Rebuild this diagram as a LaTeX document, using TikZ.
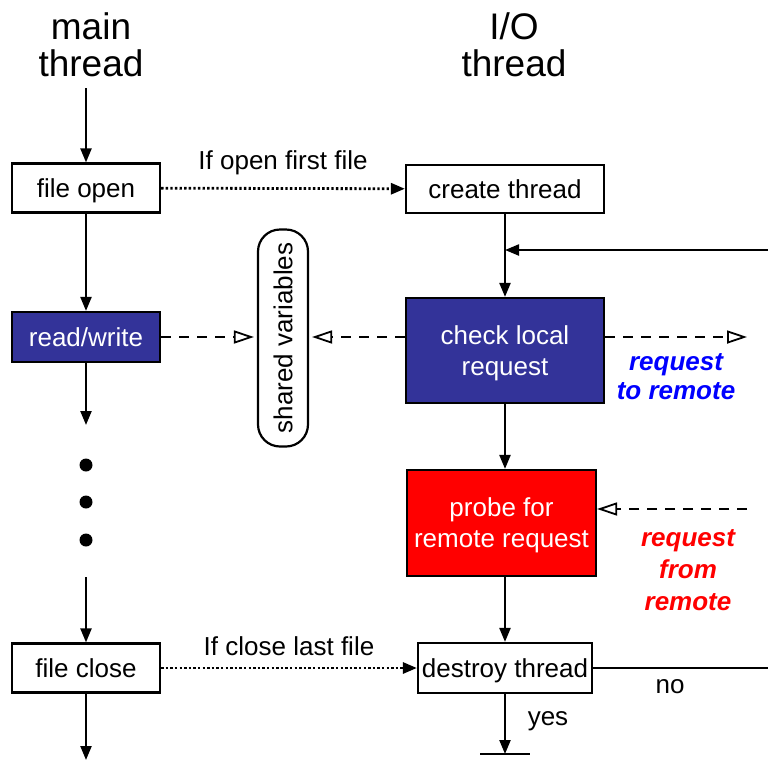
\documentclass[tikz,border=0pt]{standalone}
\usepackage{fontspec}
\setmainfont{Liberation Sans}
\usetikzlibrary{arrows.meta,positioning,calc}
\definecolor{ink}{RGB}{0,0,0}
\definecolor{localc}{RGB}{51,51,153}
\definecolor{remotec}{RGB}{255,0,0}
\definecolor{tocol}{RGB}{0,0,255}
\tikzset{
  box/.style={draw=ink,line width=2.2pt,fill=white,inner sep=0pt,
    minimum width=148pt,minimum height=49pt,text depth=0pt,
    font=\fontsize{26}{31}\selectfont,align=center},
  bigbox/.style={box,text=white,minimum height=105pt},
  shared/.style={draw=ink,line width=2.2pt,rounded corners=22pt,inner sep=0pt,
    minimum width=217pt,minimum height=50pt,rotate=90,
    font=\fontsize{26}{31}\selectfont},
  title/.style={font=\fontsize{37}{37}\selectfont,align=center,inner sep=0pt},
  lbl/.style={font=\fontsize{26}{31}\selectfont,inner sep=0pt},
  remlbl/.style={font=\fontsize{26}{29}\selectfont\bfseries\itshape,
    align=center,inner sep=0pt},
  arr/.style={-{Triangle[length=14pt,width=11pt]},line width=2.2pt},
  dots/.style={arr,line width=2.8pt,dash pattern=on 2.4pt off 2.2pt},
  dsh/.style={-{Triangle[open,length=20pt,width=13pt,line width=1.8pt]},
    line width=2.2pt,dash pattern=on 10pt off 8pt},
}
\begin{document}
\begin{tikzpicture}[x=1pt,y=-1pt]
  \useasboundingbox (0,0) rectangle (768,766);
  % column titles
  \node[title] (mt) at (91,45) {main\\thread};
  \node[title] (iot) at (514,45) {I/O\\thread};
  % main thread
  \node[box] (fo) at (86,188) {file open};
  \node[box,fill=localc,text=white,minimum height=50pt] (rw) at (86,337) {read/write};
  \node[box] (fc) at (86,668) {file close};
  \coordinate (mtEnd) at (86,88);
  \coordinate (dotTop) at (86,425);
  \coordinate (dotBot) at (86,577);
  \coordinate (mainEnd) at (86,760);
  \draw[arr] (mtEnd) -- (fo);
  \draw[arr] (fo) -- (rw);
  \draw[arr] (rw) -- (dotTop);
  \foreach \y in {465,502,540}
    \fill[ink] (86,\y) circle[radius=6.5pt];
  \draw[arr] (dotBot) -- (fc);
  \draw[arr] (fc) -- (mainEnd);
  % shared variables
  \node[shared] (sv) at (283,338) {shared variables};
  % I/O thread
  \node[box,minimum width=198pt,minimum height=48pt] (ct) at (505,189) {create thread};
  \node[bigbox,fill=localc,minimum width=198pt] (cl) at (505,350.5) {check local\\request};
  \node[bigbox,fill=remotec,minimum width=189pt,minimum height=106pt] (pr) at (501.5,523) {probe for\\remote request};
  \node[box,minimum width=174pt,minimum height=50pt] (dt) at (505,668) {destroy thread};
  \coordinate (fb) at (768,250);
  \coordinate (fbIn) at (505,250);
  \coordinate (toR) at (747,337);
  \coordinate (fromR) at (747,509);
  \coordinate (noEnd) at (768,668);
  \coordinate (gnd) at (505,754);
  \draw[dots] (fo) -- (ct) node[lbl,midway,above=12pt] {If open first file};
  \draw[dots] (fc) -- (dt) node[lbl,midway,above=11pt] {If close last file};
  \draw[arr] (ct) -- (cl.north -| ct);
  \draw[arr] (fb) -- (fbIn);
  \draw[arr] (cl.south -| dt) -- (pr.north -| dt);
  \draw[arr] (pr.south -| dt) -- (dt);
  \draw[dsh] (rw.east) -- ([xshift=-3pt]rw.east -| sv.north);
  \draw[dsh] (cl.west |- rw) -- ([xshift=3pt]rw.east -| sv.south);
  \draw[dsh] (cl.east |- toR) -- (toR);
  \draw[dsh] (fromR) -- (pr.east |- fromR);
  \draw[line width=2.2pt] (dt) -- (noEnd);
  \draw[arr] (dt) -- (gnd);
  \draw[line width=2.2pt] ([xshift=-25pt]gnd) -- ([xshift=25pt]gnd);
  % labels
  \node[remlbl,text=tocol] (tolbl) at (676,377) {request\\to remote};
  \node[remlbl,text=remotec,font=\fontsize{26}{32}\selectfont\bfseries\itshape] (fromlbl) at (688,570) {request\\from\\remote};
  \node[lbl] (nolbl) at (670,687) {no};
  \node[lbl] (yeslbl) at (548,721) {yes};
\end{tikzpicture}
\end{document}
